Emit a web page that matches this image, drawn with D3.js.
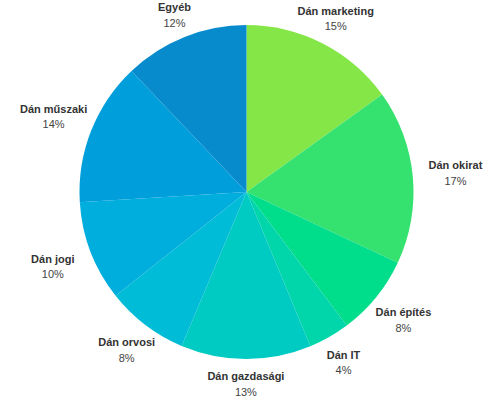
<!DOCTYPE html>
<html>
<head>
<meta charset="utf-8">
<script src="https://cdn.jsdelivr.net/npm/d3@7"></script>
<style>
html,body{margin:0;padding:0;background:#fff;}
svg{display:block;}
</style>
</head>
<body>
<svg id="chart" width="495" height="400"></svg>
<script>
const categories = ["Dán marketing","Dán okirat","Dán építés","Dán IT","Dán gazdasági","Dán orvosi","Dán jogi","Dán műszaki","Egyéb"];
const values = [15.1, 16.9, 7.8, 4.0, 12.6, 8.0, 9.7, 13.9, 12.1];
const colors = ["#84e747","#35e26f","#00dd8b","#00d6aa","#00cbc3","#00bcd6","#00aede","#009fdb","#078bcd"];

const svg = d3.select("#chart");
const cx = 246.5, cy = 192, r = 167;
const g = svg.append("g").attr("transform", `translate(${cx},${cy})`);

const total = d3.sum(values);
const pie = d3.pie().sort(null).value(d => d)(values);
const arc = d3.arc().innerRadius(0).outerRadius(r);
const color = d3.scaleOrdinal().domain(categories).range(colors);
const fmt = v => Math.round(v / total * 100) + "%";

g.selectAll("path.slice").data(pie).join("path")
  .attr("class","slice")
  .attr("d", arc)
  .attr("fill", (d,i) => color(categories[i]));

const ax = 210, by = 192;
const lab = g.selectAll("g.lab").data(pie).join("g").attr("class","lab")
  .attr("transform", d => {
    const a = (d.startAngle + d.endAngle) / 2;
    const s = Math.sin(a), c = Math.cos(a);
    const rr = 1 / Math.sqrt((s/ax)*(s/ax) + (c/by)*(c/by));
    const y = Math.max(-rr*c, 14.5 - cy);
    return `translate(${rr*s},${y})`;
  });
lab.append("text")
  .attr("text-anchor","middle")
  .attr("y", -3.5)
  .attr("font-family","'Liberation Sans', Arial, sans-serif")
  .attr("font-weight","bold")
  .attr("font-size", 11)
  .attr("fill","#333")
  .text((d,i) => categories[i]);
lab.append("text")
  .attr("text-anchor","middle")
  .attr("y", 12)
  .attr("font-family","'Liberation Sans', Arial, sans-serif")
  .attr("font-size", 11)
  .attr("fill","#444")
  .text(d => fmt(d.data));
</script>
</body>
</html>
